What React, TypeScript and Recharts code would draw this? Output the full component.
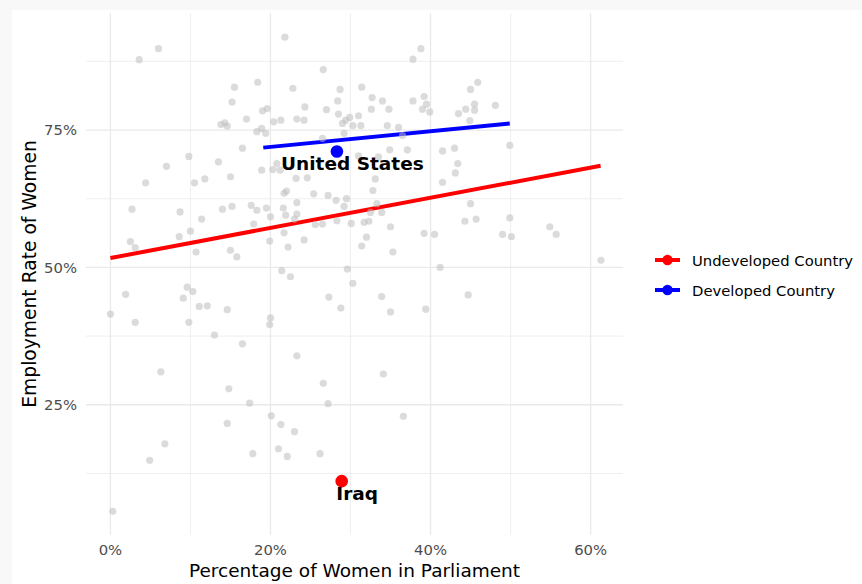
import React from 'react';
import { ComposedChart, Scatter, Line, XAxis, YAxis, CartesianGrid } from 'recharts';

// share of parliament seats held by women (%), one entry per country
const parliamentShare = [
  3.6, 6.0, 21.8, 26.6, 15.5, 18.4, 22.8, 28.7, 15.2, 28.4,
  24.3, 19.0, 19.6, 27.0, 28.5, 17.0, 20.4, 21.3, 23.3, 24.2,
  13.8, 14.3, 14.6, 18.3, 18.9, 19.4, 16.5, 9.8, 13.5, 7.0,
  18.9, 20.3, 21.2, 20.8, 15.0, 4.4, 10.5, 11.8, 23.2, 24.6,
  21.7, 22.0, 25.4, 27.2, 28.2, 23.3, 2.7, 8.7, 14.0, 15.2,
  17.6, 18.3, 19.5, 21.6, 21.9, 23.3, 20.0, 11.4, 17.9, 23.0,
  25.6, 26.5, 28.3, 10.0, 21.7, 8.6, 2.5, 3.1, 19.9, 24.2,
  22.2, 10.7, 15.0, 15.8, 26.5,
  37.8, 38.8, 45.9, 45.0, 31.4, 32.7, 34.0, 34.8, 32.6, 37.8,
  39.2, 39.5, 39.0, 39.9, 45.5, 45.5, 44.4, 43.5, 44.9, 48.1,
  29.9, 29.4, 29.0, 30.3, 31.0, 31.3, 29.2, 34.6, 36.0, 36.5,
  34.9, 37.1, 33.5, 31.0, 41.5, 43.0, 43.4, 43.1, 41.5, 49.9,
  33.1, 32.8, 29.5, 29.2, 33.3, 33.9, 32.5, 30.1, 31.7, 32.3,
  35.0, 32.0, 31.4, 35.3, 39.2, 40.5, 45.0, 44.3, 45.7, 49.9,
  49.0, 50.1, 54.9, 55.7, 61.3,
  21.4, 22.5, 1.9, 9.6, 10.3, 9.1, 11.1, 12.1, 14.6, 0.0,
  3.1, 9.8, 20.0, 19.9, 27.3, 28.8, 13.0, 16.5, 23.3, 6.3,
  14.8, 26.6, 17.4, 27.2, 14.6, 20.1, 21.3, 23.0, 6.8, 4.9,
  17.8, 21.0, 22.1, 26.2, 0.3,
  29.6, 30.3, 33.9, 35.0, 39.4, 41.2, 44.7, 34.1, 36.6,
];

// employment rate of women (%), same order as above
const employmentRate = [
  87.8, 89.8, 91.9, 86.0, 82.8, 83.7, 82.6, 82.4, 80.1, 80.3,
  79.2, 78.5, 78.9, 78.7, 77.9, 77.0, 76.5, 76.8, 77.0, 76.8,
  76.0, 76.3, 75.7, 74.7, 75.3, 74.4, 71.7, 70.2, 69.2, 68.4,
  67.7, 67.8, 67.7, 68.9, 66.5, 65.4, 65.4, 66.1, 66.2, 66.3,
  63.5, 63.9, 63.4, 63.1, 62.2, 61.8, 60.6, 60.1, 60.6, 61.1,
  61.3, 60.4, 60.8, 60.8, 59.5, 59.7, 59.2, 58.8, 57.9, 58.8,
  57.8, 57.9, 58.5, 56.6, 56.3, 55.6, 54.7, 53.6, 54.8, 55.0,
  53.7, 52.8, 53.1, 51.9, 73.5,
  87.9, 89.8, 83.7, 82.4, 82.8, 80.9, 80.3, 78.8, 78.8, 80.3,
  81.1, 79.7, 78.8, 78.3, 79.7, 78.6, 78.8, 78.0, 76.7, 79.5,
  77.3, 76.8, 76.2, 75.8, 77.6, 75.8, 74.4, 75.8, 75.5, 74.0,
  71.4, 71.4, 70.1, 70.3, 71.2, 71.7, 68.9, 67.2, 65.5, 72.2,
  66.1, 64.0, 62.5, 61.1, 61.6, 60.0, 60.0, 58.0, 58.2, 58.4,
  57.4, 55.5, 53.9, 52.8, 56.2, 56.0, 61.6, 58.4, 58.8, 59.0,
  56.0, 55.6, 57.4, 56.0, 51.3,
  49.4, 48.3, 45.1, 46.4, 45.6, 44.4, 42.9, 43.0, 42.3, 41.5,
  40.0, 40.0, 40.8, 39.6, 44.6, 42.6, 37.7, 36.1, 33.9, 31.0,
  27.9, 28.9, 25.3, 25.2, 21.6, 23.0, 21.4, 20.1, 17.9, 14.9,
  16.1, 17.0, 15.6, 16.1, 5.6,
  49.7, 47.1, 44.7, 41.9, 42.4, 50.0, 45.0, 30.6, 22.9,
];

// linear fits per group
const undevelopedFitX = [0, 61.25];
const undevelopedFitY = [51.7, 68.5];
const developedFitX = [19.1, 49.9];
const developedFitY = [71.8, 76.2];

// highlighted countries
const highlightNames = ['United States', 'Iraq'];
const highlightX = [28.3, 28.9];
const highlightY = [71.1, 11.1];
const highlightColors = ['#0000ff', '#ff0000'];

const groupNames = ['Undeveloped Country', 'Developed Country'];
const groupColors = ['#ff0000', '#0000ff'];

const xTicks = [0, 20, 40, 60];
const yTicks = [25, 50, 75];
const xMinor = [10, 30, 50];
const yMinor = [12.5, 37.5, 62.5, 87.5];

const countryPoints = parliamentShare.map((x, i) => ({ x, y: employmentRate[i] }));
const undevelopedFit = undevelopedFitX.map((x, i) => ({ x, y: undevelopedFitY[i] }));
const developedFit = developedFitX.map((x, i) => ({ x, y: developedFitY[i] }));
const highlights = highlightNames.map((name, i) => ({
  name,
  x: highlightX[i],
  y: highlightY[i],
  color: highlightColors[i],
}));

const FONT = '"DejaVu Sans", sans-serif';

const GreyDot = (p: any) => <circle cx={p.cx} cy={p.cy} r={3.6} fill="#bdbdbd" fillOpacity={0.55} />;

const HighlightDot = (props: any) => {
  const { cx, cy, payload } = props;
  return (
    <g>
      <circle cx={cx} cy={cy} r={6.3} fill={payload.color} />
      <text
        x={cx + 15.5}
        y={cy + 19}
        textAnchor="middle"
        fontFamily={FONT}
        fontWeight="bold"
        fontSize={18.5}
        fill="#000"
      >
        {payload.name}
      </text>
    </g>
  );
};

const pct = (v: number) => `${v}%`;

const App = () => {
  return (
    <div style={{ position: 'absolute', left: 0, top: 0, width: 862, height: 584, background: '#f8f8f8', overflow: 'hidden' }}>
      <div style={{ position: 'absolute', left: 12, top: 10, width: 850, height: 574, background: '#ffffff' }} />
      <div style={{ position: 'absolute', left: 0, top: 0 }}>
        <ComposedChart
          width={862}
          height={584}
          margin={{ top: 13, right: 239, left: 26, bottom: 19 }}
        >
          <CartesianGrid stroke="#ebebeb" strokeWidth={0.8} horizontalValues={yMinor} verticalValues={xMinor} />
          <CartesianGrid stroke="#e9e9e9" strokeWidth={1.3} horizontalValues={yTicks} verticalValues={xTicks} />
          <XAxis
            type="number"
            dataKey="x"
            domain={[-3.05, 64.05]}
            ticks={xTicks}
            tickFormatter={pct}
            axisLine={false}
            tickLine={false}
            tickSize={0}
            tickMargin={9.5}
            height={30}
            tick={{ fill: '#4d4d4d', fontSize: 14.8, fontFamily: FONT }}
          />
          <YAxis
            type="number"
            dataKey="y"
            domain={[1.3, 96.3]}
            ticks={yTicks}
            tickFormatter={pct}
            axisLine={false}
            tickLine={false}
            tickSize={0}
            tickMargin={9}
            width={60}
            tick={{ fill: '#4d4d4d', fontSize: 14.8, fontFamily: FONT }}
          />
          <Scatter data={countryPoints} fill="#bdbdbd" shape={GreyDot} isAnimationActive={false} />
          <Line data={undevelopedFit} dataKey="y" stroke={groupColors[0]} strokeWidth={4} dot={false} isAnimationActive={false} />
          <Line data={developedFit} dataKey="y" stroke={groupColors[1]} strokeWidth={4} dot={false} isAnimationActive={false} />
          <Scatter data={highlights} shape={HighlightDot} isAnimationActive={false} />
        </ComposedChart>
      </div>
      <svg width={862} height={584} style={{ position: 'absolute', left: 0, top: 0, pointerEvents: 'none' }}>
        <text x={354.5} y={577} textAnchor="middle" fontFamily={FONT} fontSize={18.5} fill="#000">
          Percentage of Women in Parliament
        </text>
        <text transform="translate(35.5,274) rotate(-90)" textAnchor="middle" fontFamily={FONT} fontSize={18.7} fill="#000">
          Employment Rate of Women
        </text>
        {groupNames.map((name, i) => (
          <g key={name}>
            <line x1={655} x2={680} y1={260 + i * 30} y2={260 + i * 30} stroke={groupColors[i]} strokeWidth={4} />
            <circle cx={667.5} cy={260 + i * 30} r={5.2} fill={groupColors[i]} />
            <text x={692} y={265.5 + i * 30} fontFamily={FONT} fontSize={14.8} fill="#000">
              {name}
            </text>
          </g>
        ))}
      </svg>
    </div>
  );
};

export default App;
